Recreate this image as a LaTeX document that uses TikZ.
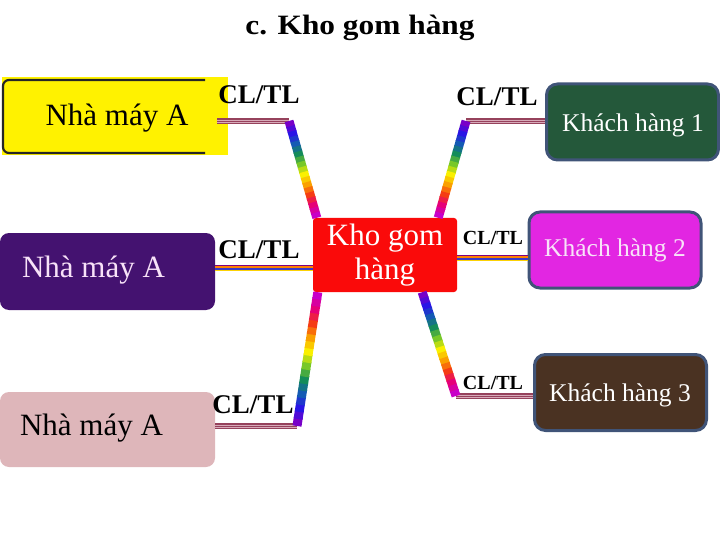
\documentclass[tikz,border=0pt]{standalone}
\usepackage{fontspec}
\setmainfont{Liberation Serif}
\usetikzlibrary{calc}
\definecolor{purpbox}{RGB}{68,18,112}
\definecolor{pinkbox}{RGB}{222,182,186}
\definecolor{greenbox}{RGB}{36,88,58}
\definecolor{magbox}{RGB}{226,38,226}
\definecolor{brownbox}{RGB}{74,50,34}
\definecolor{boxedge}{RGB}{64,84,120}
\definecolor{kholred}{RGB}{250,10,10}
\definecolor{stripecol}{RGB}{150,66,92}
\definecolor{stripelight}{RGB}{215,170,185}
\definecolor{lighttext}{RGB}{248,226,248}
\definecolor{rb0}{RGB}{120,0,200}
\definecolor{rb1}{RGB}{40,20,230}
\definecolor{rb2}{RGB}{20,90,180}
\definecolor{rb3}{RGB}{20,140,90}
\definecolor{rb4}{RGB}{120,200,40}
\definecolor{rb5}{RGB}{250,240,0}
\definecolor{rb6}{RGB}{250,160,0}
\definecolor{rb7}{RGB}{245,60,20}
\definecolor{rb8}{RGB}{230,0,120}
\definecolor{rb9}{RGB}{200,0,200}
\newcommand{\stripeline}[2]{%
  \draw[line width=6.5, stripecol] (#1) -- (#2);
  \draw[line width=0.5, stripelight] ([yshift=-1.2]#1) -- ([yshift=-1.2]#2);
  \draw[line width=0.5, stripelight] ([yshift=1.2]#1) -- ([yshift=1.2]#2);
}
\newcommand{\multistripe}[2]{%
  \draw[line width=1.6, violet] ([yshift=2.4]#1) -- ([yshift=2.4]#2);
  \draw[line width=1.6, orange] ([yshift=0.8]#1) -- ([yshift=0.8]#2);
  \draw[line width=1.6, blue!55!gray] ([yshift=-0.8]#1) -- ([yshift=-0.8]#2);
  \draw[line width=1.6, yellow!70!orange] ([yshift=-2.4]#1) -- ([yshift=-2.4]#2);
}
\newcommand{\rainbowline}[2]{%
  \foreach \c [count=\i from 0, evaluate=\i as \a using \i/19, evaluate=\i as \b using (\i+1.2)/19] in
    {rb0, rb0!50!rb1, rb1, rb1!50!rb2, rb2, rb2!50!rb3, rb3, rb3!50!rb4, rb4, rb4!50!rb5, rb5, rb5!50!rb6, rb6, rb6!50!rb7, rb7, rb7!50!rb8, rb8, rb8!50!rb9, rb9}
    {\draw[line width=9, color=\c] ($(#1)!\a!(#2)$) -- ($(#1)!{min(\b,1)}!(#2)$);}
}
\begin{document}
\begin{tikzpicture}[x=1pt,y=-1pt,
  lbl/.style={font=\fontsize{27}{30}\selectfont\bfseries, inner sep=0},
  lbls/.style={font=\fontsize{20}{24}\selectfont\bfseries, inner sep=0},
  bigtxt/.style={font=\fontsize{31}{34}\selectfont, inner sep=0},
  khtxt/.style={font=\fontsize{25.5}{30}\selectfont, inner sep=0, text=white},
  plainbox/.style={inner sep=0, rounded corners=9},
  khbox/.style={inner sep=0, rounded corners=11, draw=boxedge, line width=3, minimum width=172, minimum height=76}]
\useasboundingbox (0,0) rectangle (720,540);

% title
\node[inner sep=0] (title) at (360,28) {\scalebox{1.12}[1]{\fontsize{28}{32}\selectfont\bfseries c. Kho gom hàng}};

% left boxes
\node[fill=yellow, inner sep=0, minimum width=226, minimum height=78] (nmA1) at (115,116) {};
\draw[line width=2.2, black!85, rounded corners=6] (205,80) -- (3,80) -- (3,153) -- (205,153);
\node[bigtxt] (t1) at (117,118) {Nhà máy A};

\node[plainbox, fill=purpbox, minimum width=215, minimum height=77] (nmA2) at (107.5,271.5) {};
\node[bigtxt, text=lighttext] (t2) at ($(nmA2.center)+(-14,-1)$) {Nhà máy A};

\node[plainbox, fill=pinkbox, minimum width=215, minimum height=75] (nmA3) at (107.5,429.5) {};
\node[bigtxt] (t3) at ($(nmA3.center)+(-16,-1)$) {Nhà máy A};

% centre
\node[inner sep=0, fill=kholred, rounded corners=3, minimum width=144, minimum height=74] (kho) at (385,255) {};
\node[bigtxt, text=white, align=center] (tk) at (385,255) {Kho gom\\hàng};

% right boxes
\node[khbox, fill=greenbox] (kh1) at (632.5,122) {};
\node[khtxt] (tk1) at (633,125) {Khách hàng 1};
\node[khbox, fill=magbox] (kh2) at (615,250) {};
\node[khtxt, text=lighttext] (tk2) at (615,250) {Khách hàng 2};
\node[khbox, fill=brownbox] (kh3) at (620.5,392.5) {};
\node[khtxt] (tk3) at (620,395) {Khách hàng 3};

% labels
\node[lbl] (c1) at (259,95) {CL/TL};
\node[lbl] (c2) at (259,250) {CL/TL};
\node[lbl] (c3) at (253,405) {CL/TL};
\node[lbl] (c4) at (497,97) {CL/TL};
\node[lbls] (c5) at (493,238) {CL/TL};
\node[lbls] (c6) at (493,383) {CL/TL};

% connectors
\coordinate (b1) at (289,121);
\coordinate (s1) at ($(nmA1.east |- b1)+(-11,0)$);
\coordinate (e1) at ($(kho.north west)+(4,0)$);
\stripeline{s1}{b1}
\rainbowline{b1}{e1}

\coordinate (s2) at ($(nmA2.east)+(0,-3.5)$);
\coordinate (e2) at (kho.west |- s2);
\multistripe{s2}{e2}

\coordinate (b3) at (297,426);
\coordinate (s3) at (nmA3.east |- b3);
\coordinate (e3) at ($(kho.south west)+(5,0)$);
\stripeline{s3}{b3}
\rainbowline{b3}{e3}

\coordinate (b4) at (466,121);
\coordinate (s4) at (kh1.west |- b4);
\coordinate (e4) at ($(kho.north east)+(-19,0)$);
\stripeline{b4}{s4}
\rainbowline{b4}{e4}

\coordinate (s5) at ($(kho.east)+(0,3)$);
\coordinate (e5) at (kh2.west |- s5);
\multistripe{s5}{e5}

\coordinate (b6) at (456,396);
\coordinate (s6) at (kh3.west |- b6);
\coordinate (e6) at ($(kho.south east)+(-35,0)$);
\stripeline{b6}{s6}
\rainbowline{e6}{b6}
\end{tikzpicture}
\end{document}
